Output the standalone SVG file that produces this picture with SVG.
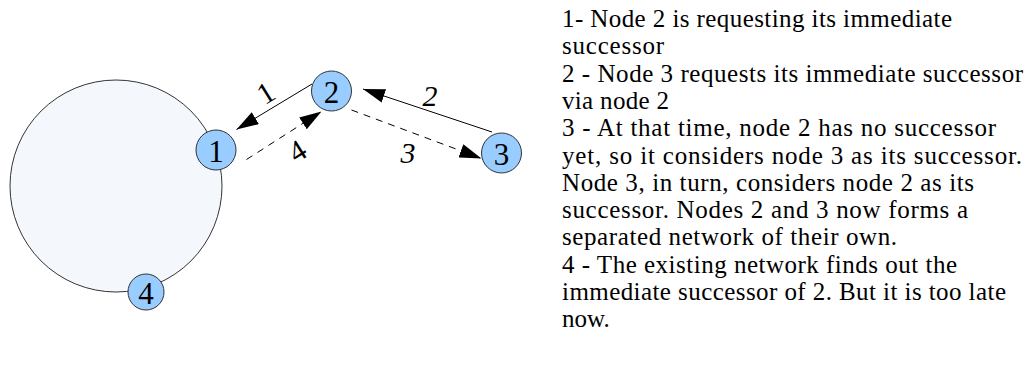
<svg xmlns="http://www.w3.org/2000/svg" width="1031" height="385" viewBox="0 0 1031 385">
  <style>
    .ring { fill: #f4f8fd; stroke: #333333; stroke-width: 1; }
    .node circle { fill: #99ccff; stroke: #333333; stroke-width: 1; }
    .node text { font-family: "Liberation Serif", "Times New Roman", serif; font-size: 31px; fill: #000000; text-anchor: middle; dominant-baseline: central; }
    .edge { stroke: #000000; stroke-width: 1; fill: none; marker-end: url(#head); }
    .dashed { stroke-dasharray: 7 6; }
    .elabel { font-family: "Liberation Serif", "Times New Roman", serif; font-size: 30px; fill: #000000; text-anchor: middle; dominant-baseline: central; }
    .italic { font-style: italic; }
    .notes { font-family: "Liberation Serif", "Times New Roman", serif; font-size: 25px; fill: #000000; }
  </style>
  <defs>
    <marker id="head" markerUnits="userSpaceOnUse" markerWidth="22" markerHeight="14" refX="22" refY="7" orient="auto">
      <path d="M0,0 L22,7 L0,14 z" fill="#000000"/>
    </marker>
  </defs>

  <!-- existing ring network -->
  <circle id="ring" class="ring" cx="116" cy="186" r="106"/>

  <!-- connectors -->
  <g id="connectors">
    <line id="e1" class="edge" x1="312" y1="84" x2="236.5" y2="129.5"/>
    <line id="e2" class="edge" x1="492" y1="132" x2="363" y2="89"/>
    <line id="e3" class="edge dashed" x1="351.5" y1="110" x2="481.5" y2="158.5"/>
    <line id="e4" class="edge dashed" x1="246.5" y1="159.5" x2="321.5" y2="111.5"/>
    <text class="elabel" transform="translate(265.5,92.5) rotate(-32)">1</text>
    <text class="elabel italic" x="430" y="95">2</text>
    <text class="elabel italic" x="408" y="152">3</text>
    <text class="elabel" transform="translate(297,150.5) rotate(-32)">4</text>
  </g>

  <!-- nodes -->
  <g id="node1" class="node">
    <circle cx="216" cy="150" r="20"/>
    <text x="216" y="151">1</text>
  </g>
  <g id="node2" class="node">
    <circle cx="331.5" cy="91" r="20"/>
    <text x="331.5" y="92">2</text>
  </g>
  <g id="node3" class="node">
    <circle cx="501.5" cy="153" r="20"/>
    <text x="501.5" y="154">3</text>
  </g>
  <g id="node4" class="node">
    <circle cx="146" cy="292" r="18"/>
    <text x="146" y="293">4</text>
  </g>

  <!-- step descriptions -->
  <g id="notes" class="notes">
    <text x="562" y="27" textLength="390" lengthAdjust="spacing">1- Node 2 is requesting its immediate</text>
    <text x="562" y="54.3" textLength="102" lengthAdjust="spacing">successor</text>
    <text x="562" y="81.6" textLength="461" lengthAdjust="spacing">2 - Node 3 requests its immediate successor</text>
    <text x="562" y="108.9" textLength="107" lengthAdjust="spacing">via node 2</text>
    <text x="562" y="136.2" textLength="434" lengthAdjust="spacing">3 - At that time, node 2 has no successor</text>
    <text x="562" y="163.5" textLength="460" lengthAdjust="spacing">yet, so it considers node 3 as its successor.</text>
    <text x="562" y="190.8" textLength="412" lengthAdjust="spacing">Node 3, in turn, considers node 2 as its</text>
    <text x="562" y="218.1" textLength="406" lengthAdjust="spacing">successor. Nodes 2 and 3 now forms a</text>
    <text x="562" y="245.4" textLength="335" lengthAdjust="spacing">separated network of their own.</text>
    <text x="562" y="272.7" textLength="395" lengthAdjust="spacing">4 - The existing network finds out the</text>
    <text x="562" y="300" textLength="444" lengthAdjust="spacing">immediate successor of 2. But it is too late</text>
    <text x="562" y="327.3">now.</text>
  </g>
</svg>
